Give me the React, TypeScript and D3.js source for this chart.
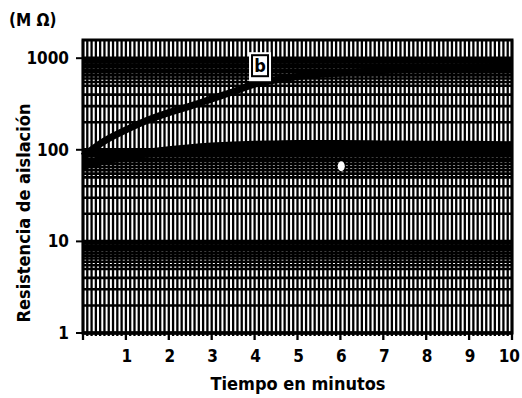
import React, { useEffect, useRef } from "react";
import * as d3 from "d3";

// time in minutes and the two insulation resistance curves (MOhm)
const minutes = [0, 0.5, 1, 1.5, 2, 2.5, 3, 3.5, 4, 4.5, 5, 6, 7, 8, 9, 10];
const curveB = [85, 125, 165, 210, 255, 300, 360, 430, 520, 580, 630, 690, 735, 770, 800, 820];
const curveA = [68, 77, 85, 92, 98, 103, 107, 110, 112, 113, 114, 114, 113, 112, 112, 111];
const yTicks = [1, 10, 100, 1000];
const xTicks = [1, 2, 3, 4, 5, 6, 7, 8, 9, 10];

const App = () => {
  const ref = useRef<SVGSVGElement | null>(null);

  useEffect(() => {
    const svg = d3.select(ref.current);
    svg.selectAll("*").remove();

    const left = 83, right = 512, top = 40, bottom = 333;
    const x = d3.scaleLinear().domain([0, 10]).range([left, right]);
    const y = d3.scaleLog().domain([1, 1580]).range([bottom, top]);
    const font = "'DejaVu Sans Condensed', 'DejaVu Sans', sans-serif";

    // background of the log paper
    svg.append("rect")
      .attr("x", left).attr("y", top)
      .attr("width", right - left).attr("height", bottom - top)
      .attr("fill", "#fff");

    // horizontal log grid: 1..9 in each decade plus half steps above 5
    const hLines: number[] = [];
    [1, 10, 100].forEach((d) => {
      for (let k = 1; k < 10; k++) hLines.push(k * d);
      [5.5, 6.5, 7.5, 8.5, 9.5].forEach((k) => hLines.push(k * d));
    });
    hLines.push(1000);
    svg.append("g")
      .selectAll("line")
      .data(hLines)
      .join("line")
      .attr("x1", left).attr("x2", right)
      .attr("y1", (d) => y(d)).attr("y2", (d) => y(d))
      .attr("stroke", "#000")
      .attr("stroke-width", (d) => (yTicks.includes(d) ? 3.5 : 2.6));

    // vertical grid every 0.1 minute
    const vLines = d3.range(0, 101).map((i) => i / 10);
    svg.append("g")
      .selectAll("line")
      .data(vLines)
      .join("line")
      .attr("x1", (d) => x(d)).attr("x2", (d) => x(d))
      .attr("y1", top).attr("y2", (d) => (Math.abs(d - Math.round(d)) < 1e-6 ? bottom + 7 : bottom + 3))
      .attr("stroke", "#000")
      .attr("stroke-width", 2.3);

    // frame
    svg.append("rect")
      .attr("x", left).attr("y", top)
      .attr("width", right - left).attr("height", bottom - top)
      .attr("fill", "none").attr("stroke", "#000").attr("stroke-width", 3);

    // curves
    const line = d3.line<number>()
      .x((d, i) => x(minutes[i]))
      .curve(d3.curveMonotoneX);

    svg.append("path")
      .datum(curveB)
      .attr("fill", "none").attr("stroke", "#000").attr("stroke-width", 7)
      .attr("d", line.y((d) => y(d)));

    svg.append("path")
      .datum(curveA)
      .attr("fill", "none").attr("stroke", "#000").attr("stroke-width", 9)
      .attr("d", line.y((d) => y(d)));

    // label b in a small box
    const bx = x(3.87), by = y(1000);
    svg.append("rect")
      .attr("x", bx).attr("y", by - 6).attr("width", 22).attr("height", 29)
      .attr("fill", "#fff");
    svg.append("rect")
      .attr("x", bx + 3).attr("y", by - 3).attr("width", 16).attr("height", 21)
      .attr("fill", "none").attr("stroke", "#000").attr("stroke-width", 2);
    svg.append("text")
      .attr("x", bx + 11).attr("y", by + 14)
      .attr("text-anchor", "middle")
      .attr("font-family", font).attr("font-weight", "bold").attr("font-size", 18)
      .text("b");

    // damaged label spot near curve a
    svg.append("ellipse")
      .attr("cx", x(6.02)).attr("cy", y(66)).attr("rx", 3.5).attr("ry", 5)
      .attr("fill", "#fff");

    // y axis ticks and labels
    svg.append("g")
      .selectAll("line")
      .data(yTicks)
      .join("line")
      .attr("x1", left - 7).attr("x2", left)
      .attr("y1", (d) => y(d)).attr("y2", (d) => y(d))
      .attr("stroke", "#000").attr("stroke-width", 2);

    svg.append("g")
      .selectAll("text")
      .data(yTicks)
      .join("text")
      .attr("x", 69)
      .attr("y", (d) => y(d) + 6)
      .attr("text-anchor", "end")
      .attr("font-family", font).attr("font-weight", "bold").attr("font-size", 17)
      .text((d) => String(d));

    svg.append("text")
      .attr("x", 9).attr("y", 26)
      .attr("font-family", font).attr("font-weight", "bold").attr("font-size", 17)
      .text("(M Ω)");

    svg.append("text")
      .attr("transform", "translate(30,213) rotate(-90)")
      .attr("text-anchor", "middle")
      .attr("font-family", font).attr("font-weight", "bold").attr("font-size", 18)
      .text("Resistencia de aislación");

    // x axis labels (the last one is kept inside the right edge)
    svg.append("g")
      .selectAll("text")
      .data(xTicks)
      .join("text")
      .attr("x", (d) => (d === 10 ? 520 : x(d) + 1))
      .attr("y", 362)
      .attr("text-anchor", (d) => (d === 10 ? "end" : "middle"))
      .attr("font-family", font).attr("font-weight", "bold").attr("font-size", 17)
      .text((d) => String(d));

    svg.append("text")
      .attr("x", 298).attr("y", 390)
      .attr("text-anchor", "middle")
      .attr("font-family", font).attr("font-weight", "bold").attr("font-size", 18)
      .text("Tiempo en minutos");
  }, []);

  return (
    <svg
      ref={ref}
      width={522}
      height={398}
      style={{ position: "absolute", left: 0, top: 0, background: "#fff" }}
    />
  );
};

export default App;
